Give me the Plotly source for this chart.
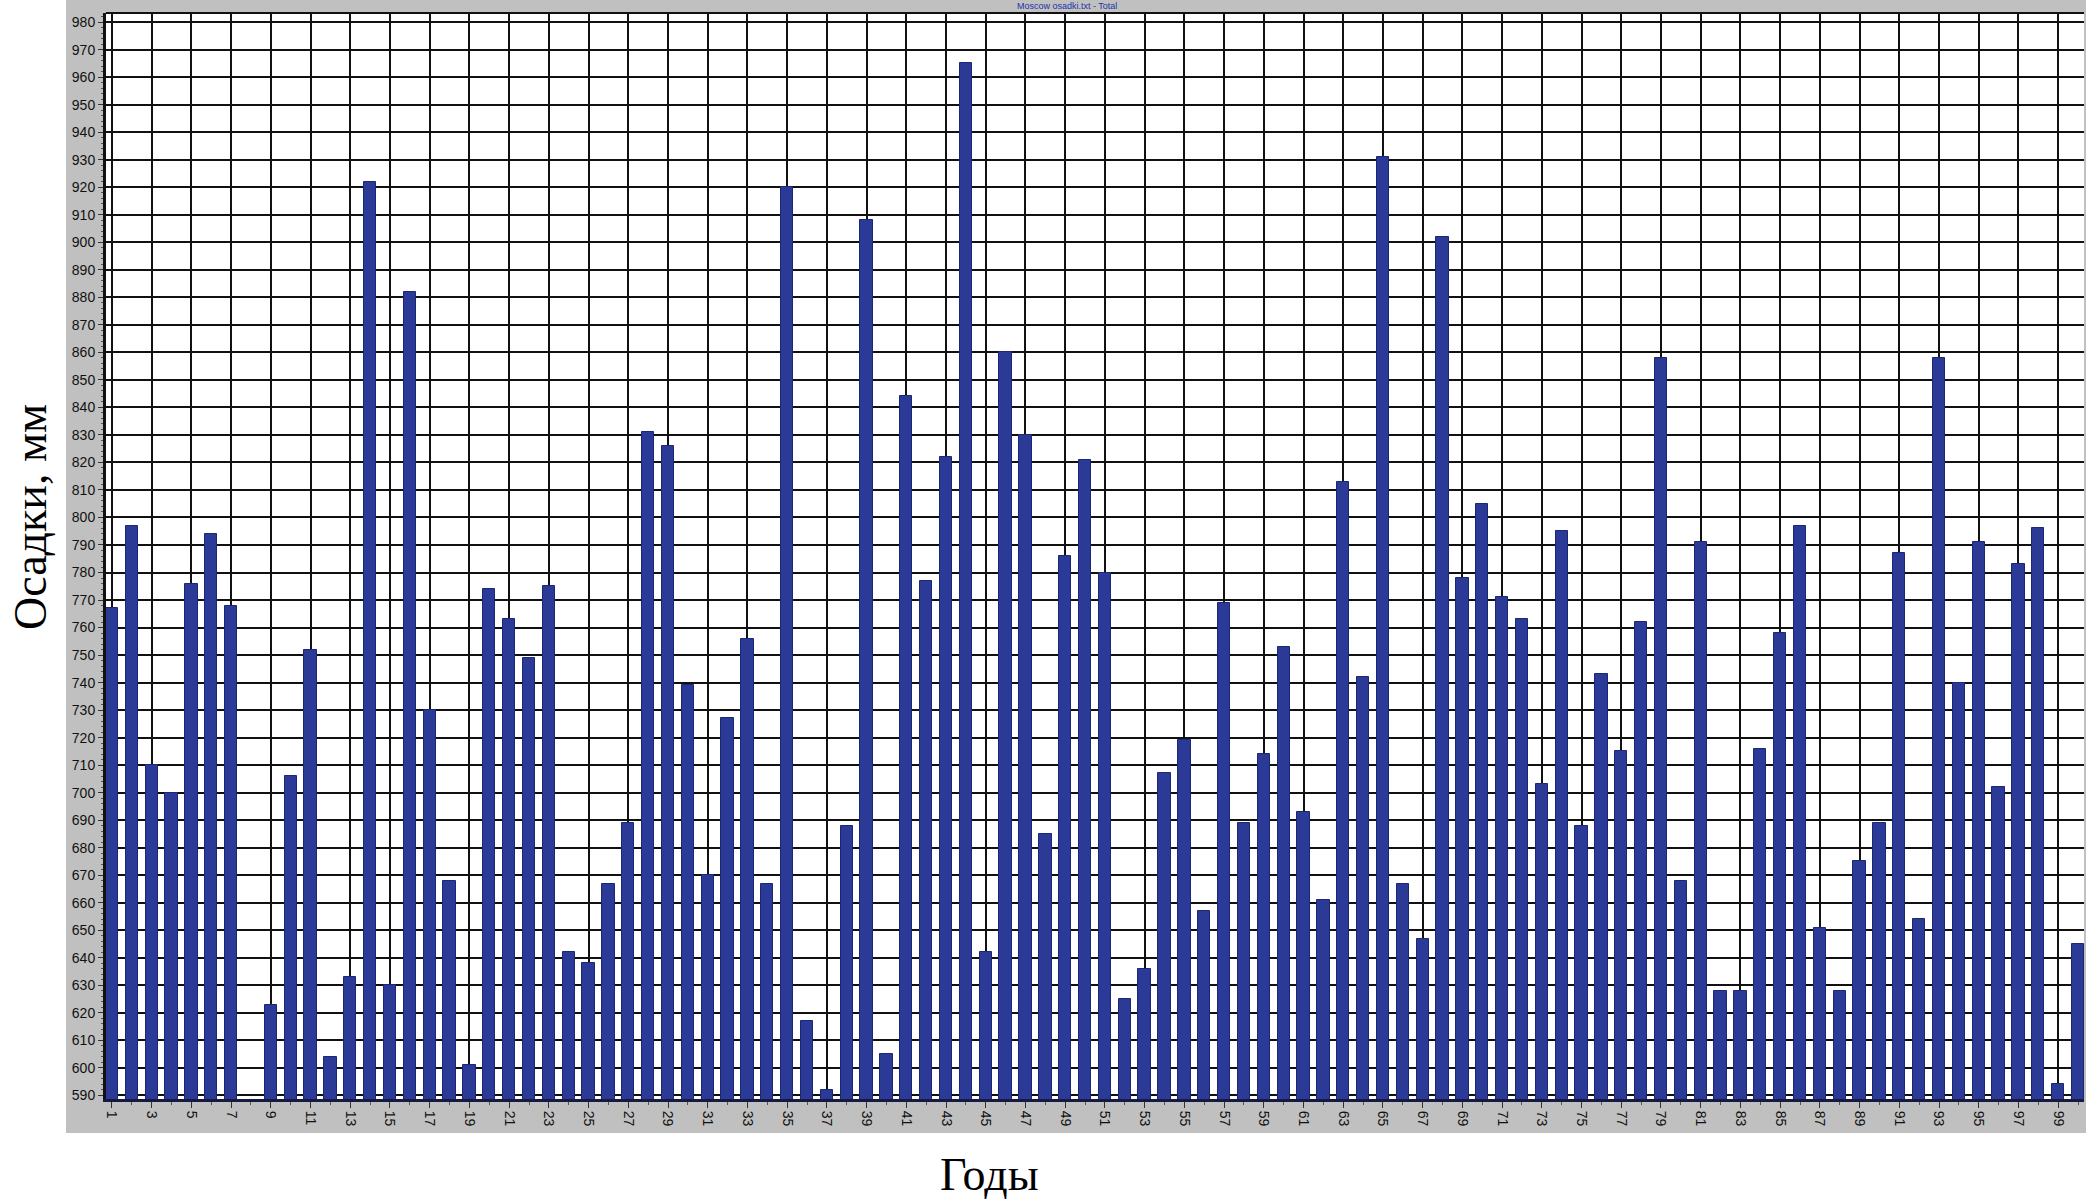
import plotly.graph_objects as go

years = list(range(1, 101))
precip_mm = [
    767, 797, 710, 700, 776, 794, 768, 585, 623, 706,
    752, 604, 633, 922, 630, 882, 730, 668, 601, 774,
    763, 749, 775, 642, 638, 667, 689, 831, 826, 739,
    670, 727, 756, 667, 920, 617, 592, 688, 908, 605,
    844, 777, 822, 965, 642, 860, 830, 685, 786, 821,
    780, 625, 636, 707, 719, 657, 769, 689, 714, 753,
    693, 661, 813, 742, 931, 667, 647, 902, 778, 805,
    771, 763, 703, 795, 688, 743, 715, 762, 858, 668,
    791, 628, 628, 716, 758, 797, 651, 628, 675, 689,
    787, 654, 858, 740, 791, 702, 783, 796, 594, 645,
]
x_tick_vals = list(range(1, 100, 2))
x_tick_text = [str(v) for v in x_tick_vals]
y_tick_vals = list(range(590, 990, 10))
y_tick_text = [str(v) for v in y_tick_vals]

W, H = 2098, 1204
L, R, T, B = 106, 14, 13, 105
pw, ph = W - L - R, H - T - B

def px_x(p):
    return (p - L) / pw

def px_y(p):
    return (H - B - p) / ph

fig = go.Figure()
fig.add_trace(go.Bar(
    x=years, y=precip_mm, width=0.62,
    marker=dict(color="#2c3a97", line=dict(color="#1b2674", width=1)),
    showlegend=False,
))

tick_font = dict(family="Liberation Sans, Arial, sans-serif", size=14, color="#111111")

fig.update_layout(
    width=W, height=H,
    margin=dict(l=L, r=R, t=T, b=B, pad=0),
    paper_bgcolor="white",
    plot_bgcolor="white",
    bargap=0,
    xaxis=dict(
        range=[0.7, 100.3],
        tickmode="array", tickvals=x_tick_vals, ticktext=x_tick_text,
        tickangle=90, tickfont=tick_font,
        ticks="outside", ticklen=6, tickwidth=1, tickcolor="#333",
        showgrid=True, gridcolor="#111111", gridwidth=1.5,
        showline=True, linecolor="#141a40", linewidth=3,
        zeroline=False,
        minor=dict(tickmode="linear", tick0=0, dtick=1, ticks="outside",
                   ticklen=3, tickcolor="#555", showgrid=False),
    ),
    yaxis=dict(
        range=[588.7, 983.3],
        tickmode="array", tickvals=y_tick_vals, ticktext=y_tick_text,
        tickfont=tick_font,
        ticks="outside", ticklen=5, tickwidth=1, tickcolor="#333",
        showgrid=True, gridcolor="#111111", gridwidth=1.5,
        showline=True, linecolor="#111111", linewidth=3,
        zeroline=False,
        minor=dict(tickmode="linear", tick0=0, dtick=2, ticks="outside",
                   ticklen=2, tickcolor="#555", showgrid=False),
    ),
    shapes=[
        dict(type="rect", xref="paper", yref="paper", layer="below",
             x0=px_x(66), x1=px_x(2086), y0=px_y(1133), y1=px_y(-2),
             fillcolor="#c0c0c0", line=dict(width=0)),
        dict(type="rect", xref="paper", yref="paper", layer="below",
             x0=0, x1=1, y0=0, y1=1,
             fillcolor="white", line=dict(width=0)),
        dict(type="line", xref="paper", yref="paper", layer="above",
             x0=0, x1=1, y0=1, y1=1, line=dict(color="#111111", width=2)),
    ],
    annotations=[
        dict(text="Осадки, мм", xref="paper", yref="paper",
             x=px_x(30), y=px_y(517), xanchor="center", yanchor="middle",
             textangle=-90, showarrow=False,
             font=dict(family="Liberation Serif, Times New Roman, serif", size=46, color="black")),
        dict(text="Годы", xref="paper", yref="paper",
             x=px_x(989), y=px_y(1174), xanchor="center", yanchor="middle",
             showarrow=False,
             font=dict(family="Liberation Serif, Times New Roman, serif", size=46, color="black")),
        dict(text="Moscow osadki.txt - Total", xref="paper", yref="paper",
             x=px_x(1067), y=px_y(12), xanchor="center", yanchor="bottom",
             showarrow=False, borderpad=0,
             font=dict(family="Liberation Sans, Arial, sans-serif", size=9, color="#2233aa")),
    ],
)

fig.write_html("out.html", config={"displayModeBar": False},
               post_script="document.body.style.margin='0';document.body.style.overflow='hidden';")
